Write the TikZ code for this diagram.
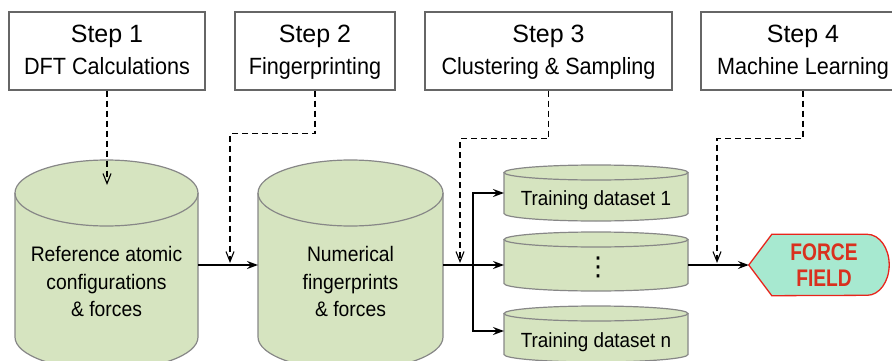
\documentclass[tikz,border=0pt]{standalone}
\usepackage{fontspec}
\setmainfont{Liberation Sans}
\newfontfamily\narrowf[FakeStretch=0.92]{Liberation Sans}
\newfontfamily\ffont[FakeStretch=0.8]{Liberation Sans}
\newfontfamily\symf{DejaVu Sans}
\usetikzlibrary{arrows.meta}

\definecolor{cylfill}{HTML}{D6E4C0}
\definecolor{cylline}{HTML}{878787}
\definecolor{boxline}{HTML}{666666}
\definecolor{ffill}{HTML}{A7E9D0}
\definecolor{ffline}{HTML}{E8251C}
\definecolor{fftext}{HTML}{D9301E}

% cylinder drawn over an (invisible) body node: #1 node, #2 x radius, #3 y radius
\newcommand\drawcyl[3]{%
  \path[fill=cylfill] (#1.north west) -- (#1.south west)
    arc[start angle=180,end angle=360,x radius=#2,y radius=#3]
    -- (#1.north east)
    arc[start angle=0,end angle=180,x radius=#2,y radius=#3] -- cycle;
  \draw[cylline,line width=1.2pt] (#1.north west) -- (#1.south west)
    arc[start angle=180,end angle=360,x radius=#2,y radius=#3]
    -- (#1.north east);
  \draw[cylline,line width=1.2pt] (#1.north) ellipse[x radius=#2,y radius=#3];}

\tikzset{
  stepbox/.style={draw=boxline,line width=1.4pt,fill=white,inner sep=0,
    minimum height=78pt},
  steptext/.style={align=center,inner sep=0,font=\narrowf\fontsize{23.5}{32}\selectfont},
  cylbody/.style={draw=none,inner sep=0,outer sep=0},
  cyltext/.style={align=center,inner sep=0,font=\narrowf\fontsize{21}{27.5}\selectfont},
  dstext/.style={inner sep=0,anchor=base,font=\narrowf\fontsize{20.5}{23}\selectfont},
  dashlink/.style={line width=1.1pt,dash pattern=on 6pt off 4pt,
    -{Straight Barb[length=10pt,width=8pt]}},
  flow/.style={line width=1.4pt,-{Stealth[length=11pt,width=8pt,inset=4pt]}},
}

\begin{document}
\begin{tikzpicture}[x=1pt,y=1pt]
\useasboundingbox (0,0) rectangle (892,360);
\clip (0,0) rectangle (892,360);

% step boxes
\node[stepbox,minimum width=196pt] (s1) at (107,309) {};
\node[stepbox,minimum width=160pt] (s2) at (315,309) {};
\node[stepbox,minimum width=247pt] (s3) at (548.5,309) {};
\node[stepbox,minimum width=204pt] (s4) at (803,309) {};
\node[steptext] (s1t) at (107,307.7) {{\rmfamily\fontsize{25}{32}\selectfont Step 1}\\DFT Calculations\vphantom{g}};
\node[steptext] (s2t) at (315,307.7) {{\rmfamily\fontsize{25}{32}\selectfont Step 2}\\Fingerprinting};
\node[steptext] (s3t) at (548.5,307.7) {{\rmfamily\fontsize{25}{32}\selectfont Step 3}\\Clustering \& Sampling};
\node[steptext] (s4t) at (803,307.7) {{\rmfamily\fontsize{25}{32}\selectfont Step 4}\\Machine Learning};

% data stores
\node[cylbody,minimum width=183pt,minimum height=144pt] (c1) at (106.5,95) {};
\node[cylbody,minimum width=185pt,minimum height=144pt] (c2) at (350.5,95) {};
\node[cylbody,minimum width=184pt,minimum height=41pt] (d1) at (596,167) {};
\node[cylbody,minimum width=184pt,minimum height=44pt] (d2) at (596,98.5) {};
\node[cylbody,minimum width=184pt,minimum height=41pt] (dn) at (596,26) {};
\drawcyl{c1}{91.5}{33}
\drawcyl{c2}{92.5}{33}
\drawcyl{d1}{92}{7.5}
\drawcyl{d2}{92}{7.5}
\drawcyl{dn}{92}{7.5}

\node[cyltext] (c1t) at (106.5,78.2) {Reference atomic\\configurations\\\& forces};
\node[cyltext] (c2t) at (350.5,78.2) {Numerical\\fingerprints\\\& forces};
\node[dstext] (d1t) at (596,154.3) {Training dataset 1};
\node[dstext] (dnt) at (596,13) {Training dataset n};
\node[inner sep=0,font=\symf\fontsize{26}{30}\selectfont] (vd) at (598,93) {⋮};

% force field
\node[draw=none,inner sep=0,minimum width=140pt,minimum height=61pt] (ff) at (819,95) {};
\path[draw=ffline,fill=ffill,line width=1.3pt]
  (ff.west) -- ([xshift=23pt]ff.north west) -- ([xshift=-22pt]ff.north east)
  arc[start angle=90,end angle=-90,x radius=22,y radius=30.5]
  -- ([xshift=23pt]ff.south west) -- cycle;
\node[align=center,inner sep=0,text=fftext,font=\ffont\bfseries\fontsize{24}{26}\selectfont] (fft) at (824,94.5) {FORCE\\FIELD};

% dashed step links
\coordinate (in1) at (107,175);
\coordinate (in2) at (230,97);
\coordinate (in3) at (460,97);
\coordinate (in4) at (717,97);
\draw[dashlink] (s1.south) -- (in1);
\draw[dashlink] (s2.south) -- ++(0,-43) -| (in2);
\draw[dashlink] (s3.south) -- ++(0,-48) -| (in3);
\draw[dashlink] (s4.south) -- ++(0,-48) -| (in4);

% data flow
\coordinate (br) at (473,95);
\draw[flow] (c1.east) -- (c2.west);
\draw[flow] (c2.east) -- (d2.west |- c2.east);
\draw[flow] (br) |- (d1.west);
\draw[flow] (br) |- ([yshift=3pt]dn.west);
\draw[flow] (d2.east |- ff.west) -- (ff.west);
\end{tikzpicture}
\end{document}
